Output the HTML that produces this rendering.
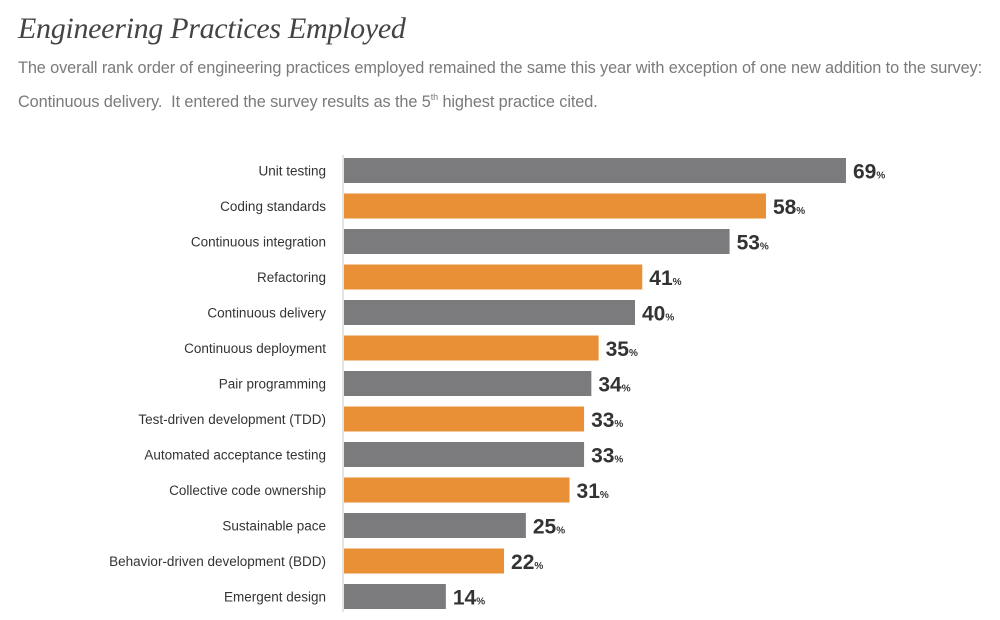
<!DOCTYPE html>
<html><head><meta charset="utf-8"><style>
body{margin:0;width:1000px;height:620px;background:#fff;overflow:hidden;position:relative;font-family:"Liberation Sans",sans-serif}
#title{position:absolute;left:18px;top:12px;font-family:"Liberation Serif",serif;font-style:italic;font-size:30px;color:#444;letter-spacing:-0.3px}
#sub{position:absolute;left:18px;top:54px;width:990px;font-size:16.3px;line-height:29px;color:#7a7a7a;letter-spacing:-0.1px}
sup{font-size:9px;vertical-align:7px}
</style></head><body>
<div id="title">Engineering Practices Employed</div>
<div id="sub">The overall rank order of engineering practices employed remained the same this year with exception of one new addition to the survey: Continuous delivery.&nbsp; It entered the survey results as the 5<sup>th</sup> highest practice cited.</div>
<svg id="chart" width="1000" height="620" style="position:absolute;left:0;top:0"></svg>
<script>
const categories=["Unit testing","Coding standards","Continuous integration","Refactoring","Continuous delivery","Continuous deployment","Pair programming","Test-driven development (TDD)","Automated acceptance testing","Collective code ownership","Sustainable pace","Behavior-driven development (BDD)","Emergent design"];
const values=[69,58,53,41,40,35,34,33,33,31,25,22,14];
const x0=344, pxPer=7.275, y0=170.5, step=35.5, bh=25;
const xs=v=>x0+v*pxPer, ys=i=>y0+i*step;
const svg=document.getElementById('chart'), NS="http://www.w3.org/2000/svg";
function mk(t,a){const e=document.createElementNS(NS,t);for(const k in a)e.setAttribute(k,a[k]);svg.appendChild(e);return e;}
const ax=mk('line',{x1:343,x2:343,y1:155,y2:612,stroke:'#e4e4e4','stroke-width':2});


categories.forEach((c,i)=>{
  const y=ys(i);
  const r=mk('rect',{x:x0,y:y-bh/2,width:xs(values[i])-x0,height:bh,fill:i%2?'#e98f35':'#7b7b7d'});
  
  
  const l=mk('text',{x:326,y:y+5,'text-anchor':'end','font-size':13.5,fill:'#333'});
  l.textContent=c;
  
  
  const v=mk('text',{x:xs(values[i])+7,y:y+8,'font-size':21,'font-weight':'bold',fill:'#333'});
  
  
  v.textContent=values[i];
  const p=document.createElementNS(NS,'tspan');p.setAttribute('font-size',10);p.textContent='%';v.appendChild(p);
});
</script>
</body></html>
